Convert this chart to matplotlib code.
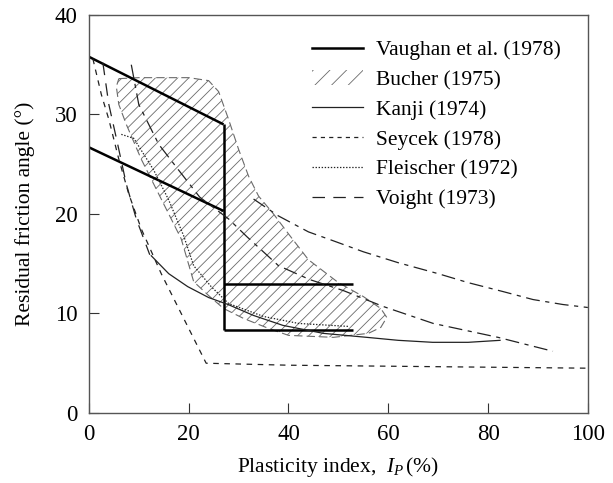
import numpy as np
import matplotlib
matplotlib.use("Agg")
import matplotlib.pyplot as plt
from matplotlib.lines import Line2D
from matplotlib.patches import Polygon, Patch

plt.rcParams['font.family'] = ['Liberation Serif', 'DejaVu Serif']
plt.rcParams['mathtext.fontset'] = 'custom'
plt.rcParams['mathtext.it'] = 'Liberation Serif:italic'
plt.rcParams['mathtext.rm'] = 'Liberation Serif'
plt.rcParams['lines.scale_dashes'] = False
plt.rcParams['hatch.linewidth'] = 0.6

# Vaughan et al. (1978) - bounding lines
vaughan_upper_x = [0, 27]
vaughan_upper_y = [35.8, 29.0]
vaughan_lower_x = [0, 27]
vaughan_lower_y = [26.7, 20.3]
vaughan_vert_x = [27, 27]
vaughan_vert_y = [29.0, 8.3]
vaughan_h1_x = [27, 53]
vaughan_h1_y = [13.0, 13.0]
vaughan_h2_x = [27, 53]
vaughan_h2_y = [8.3, 8.3]

# Bucher (1975) - hatched band outline
bucher_x = [6, 10, 20, 24, 26, 28, 30, 32, 34, 37, 40, 44, 50, 55, 58.5, 59.7,
            58.5, 56, 49, 40, 36, 31, 27, 24, 21, 18.5, 14.5, 10.5, 7.5, 6, 5.5]
bucher_y = [33.6, 33.7, 33.7, 33.4, 32.3, 29.5, 26.5, 23.8, 21.8, 20.0, 18.0, 15.4,
            13.1, 11.7, 10.5, 9.6, 8.6, 8.0, 7.6, 7.8, 8.5, 9.5, 10.5, 11.8, 13.2,
            17.5, 21.5, 25.5, 29.0, 31.0, 32.8]

# Kanji (1974)
kanji_x = [12.5, 16, 19.8, 24, 27.9, 33, 38.9, 47, 55.7, 62, 68.9, 76, 82.4]
kanji_y = [15.8, 14.0, 12.7, 11.6, 10.9, 9.8, 8.8, 8.0, 7.6, 7.3, 7.1, 7.1, 7.3]

# Seycek (1978)
seycek_x = [0.8, 2.5, 4, 6, 8, 10.5, 14.5, 19, 23.5, 40, 60, 80, 100]
seycek_y = [35.6, 32.0, 29.5, 25.5, 22.0, 18.5, 14.0, 9.5, 5.0, 4.8, 4.7, 4.6, 4.5]

# Fleischer (1972)
fleischer_x = [6.5, 9, 11, 13, 16, 19, 21, 24.5, 28, 35, 42, 52]
fleischer_y = [28.0, 27.6, 26.0, 24.4, 21.4, 17.8, 14.8, 12.7, 11.0, 9.7, 9.0, 8.7]

# Voight (1973)
voight_x = [2.8, 4, 5.6, 7.5, 9.5, 12.2]
voight_y = [35.2, 31.0, 27.4, 23.0, 19.5, 15.9]
voight_low_x = [8.5, 10, 14, 18, 22.2, 28, 31.7, 38, 44.3, 51, 59, 69, 82, 93]
voight_low_y = [35.0, 31.0, 27.0, 24.4, 21.7, 19.5, 17.7, 14.8, 13.4, 12.3, 10.7, 9.0, 7.6, 6.2]
voight_up_x = [33, 38, 44, 49, 55, 62, 70, 76, 83, 89, 95, 100]
voight_up_y = [21.5, 19.8, 18.2, 17.3, 16.2, 15.1, 14.0, 13.1, 12.2, 11.4, 10.9, 10.6]

fig = plt.figure(figsize=(6.13, 4.83), dpi=100)
ax = fig.add_axes([0.145, 0.145, 0.814, 0.824])

ink = '#222222'

# Bucher band
band = Polygon(np.column_stack([bucher_x, bucher_y]), closed=True, fill=False,
               hatch='///', edgecolor='#6a6a6a', linewidth=0.8, linestyle=(0, (6, 3)))
ax.add_patch(band)

# Vaughan
for xs, ys in [(vaughan_upper_x, vaughan_upper_y), (vaughan_lower_x, vaughan_lower_y),
               (vaughan_vert_x, vaughan_vert_y), (vaughan_h1_x, vaughan_h1_y),
               (vaughan_h2_x, vaughan_h2_y)]:
    ax.plot(xs, ys, color='black', lw=1.8, solid_capstyle='butt')

ax.plot(kanji_x, kanji_y, color=ink, lw=0.9)
ax.plot(seycek_x, seycek_y, color=ink, lw=0.9, linestyle=(0, (4, 4)))
ax.plot(fleischer_x, fleischer_y, color=ink, lw=0.9, linestyle=(0, (1, 1.2)))
ax.plot(voight_x, voight_y, color=ink, lw=0.9, linestyle=(0, (9, 6)))
ax.plot(voight_low_x, voight_low_y, color=ink, lw=0.9, linestyle=(0, (10, 4, 3, 4)))
ax.plot(voight_up_x, voight_up_y, color=ink, lw=0.9, linestyle=(0, (10, 4, 3, 4)))

ax.set_xlim(0, 100)
ax.set_ylim(0, 40)
ax.set_xticks([0, 20, 40, 60, 80, 100])
ax.set_yticks([0, 10, 20, 30, 40])
ax.tick_params(direction='in', length=7, width=0.8, labelsize=16.5, pad=8,
               colors='#333333', labelcolor='black')
for s in ax.spines.values():
    s.set_color('#555555')
    s.set_linewidth(1.0)

ax.set_xlabel(r'Plasticity index,  $I_P\,$(%)', fontsize=15.5, labelpad=7)
ax.set_ylabel('Residual friction angle (°)', fontsize=15.5, labelpad=14)

handles = [
    Line2D([], [], color='black', lw=1.8),
    Patch(facecolor='white', edgecolor='#6a6a6a', hatch='//', linewidth=0),
    Line2D([], [], color=ink, lw=0.9),
    Line2D([], [], color=ink, lw=0.9, linestyle=(0, (3, 3))),
    Line2D([], [], color=ink, lw=0.9, linestyle=(0, (1, 1.2))),
    Line2D([], [], color=ink, lw=0.9, linestyle=(0, (9, 6))),
]
labels = ['Vaughan et al. (1978)', 'Bucher (1975)', 'Kanji (1974)',
          'Seycek (1978)', 'Fleischer (1972)', 'Voight (1973)']
ax.legend(handles, labels, loc='upper right', bbox_to_anchor=(0.985, 0.985),
          frameon=False, fontsize=15.5, handlelength=2.4, handletextpad=0.6,
          labelspacing=0.45)

fig.savefig('out.png', dpi=100)
